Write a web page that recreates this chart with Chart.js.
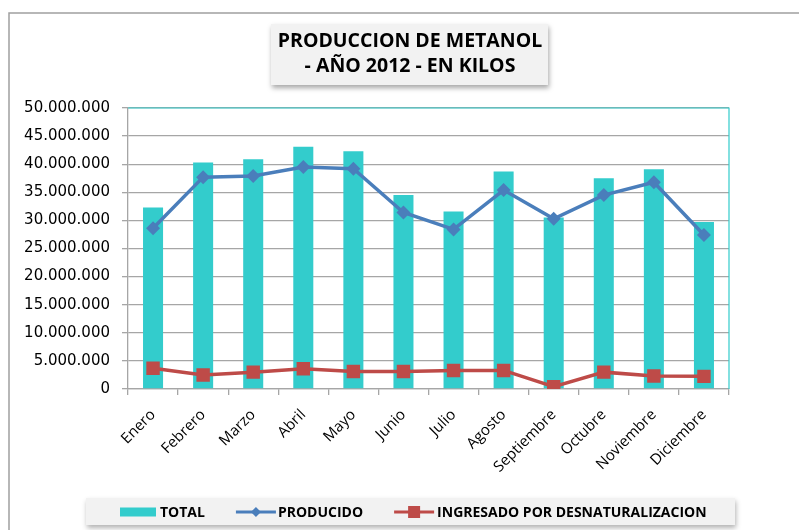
<!DOCTYPE html>
<html>
<head>
<meta charset="utf-8">
<script src="https://cdn.jsdelivr.net/npm/chart.js@4.4.0/dist/chart.umd.min.js"></script>
<style>
  html, body { margin: 0; padding: 0; background: #ffffff; }
  #wrap { width: 799px; height: 530px; position: relative; }
</style>
</head>
<body>
<div id="wrap"><canvas id="c" width="799" height="530"></canvas></div>
<script>
const categories = ['Enero','Febrero','Marzo','Abril','Mayo','Junio','Julio','Agosto','Septiembre','Octubre','Noviembre','Diciembre'];
const total      = [32300000, 40300000, 40900000, 43100000, 42300000, 34500000, 31600000, 38700000, 30500000, 37500000, 39100000, 29700000];
const producido  = [28600000, 37700000, 37900000, 39500000, 39200000, 31400000, 28400000, 35400000, 30300000, 34500000, 36800000, 27400000];
const ingresado  = [3700000, 2500000, 3000000, 3600000, 3100000, 3100000, 3300000, 3300000, 400000, 3000000, 2300000, 2250000];
const titleLines = ['PRODUCCION DE METANOL', '- AÑO 2012 - EN KILOS'];
const seriesNames = ['TOTAL', 'PRODUCIDO', 'INGRESADO POR DESNATURALIZACION'];

const TEAL = '#33CCCC', BLUE = '#4A7EBB', RED = '#BE4B48', GRID = '#a6a6a6';

function fmt(v) { return String(v).replace(/\B(?=(\d{3})+(?!\d))/g, '.'); }

const framePlugin = {
  id: 'frame',
  beforeDraw(chart) {
    const ctx = chart.ctx;
    ctx.save();
    ctx.fillStyle = '#fff';
    ctx.fillRect(0, 0, chart.width, chart.height);
    // outer border
    ctx.strokeStyle = '#a0a0a0';
    ctx.lineWidth = 1.5;
    ctx.beginPath();
    ctx.moveTo(9, chart.height + 2);
    ctx.lineTo(9, 13);
    ctx.lineTo(chart.width + 2, 13);
    ctx.stroke();
    // title box + title text
    ctx.shadowColor = 'rgba(0,0,0,0.35)';
    ctx.shadowBlur = 5; ctx.shadowOffsetY = 3; ctx.shadowOffsetX = 1;
    ctx.fillStyle = '#f2f2f2';
    ctx.fillRect(271, 24, 277, 61);
    ctx.shadowColor = 'transparent';
    ctx.fillStyle = '#000';
    ctx.font = 'bold 19.5px "Open Sans"';
    ctx.textAlign = 'center';
    ctx.textBaseline = 'middle';
    ctx.fillText(titleLines[0], 410, 41);
    ctx.fillText(titleLines[1], 410, 66);
    ctx.restore();
  },
  afterDatasetsDraw(chart) {
    const ctx = chart.ctx, a = chart.chartArea;
    ctx.save();
    ctx.strokeStyle = TEAL;
    ctx.lineWidth = 1.2;
    ctx.beginPath();
    ctx.moveTo(a.left, a.top);
    ctx.lineTo(a.right, a.top);
    ctx.lineTo(a.right, a.bottom);
    ctx.stroke();
    ctx.restore();
  },
  afterDraw(chart) {
    const ctx = chart.ctx;
    ctx.save();
    // legend box
    ctx.shadowColor = 'rgba(0,0,0,0.3)';
    ctx.shadowBlur = 5; ctx.shadowOffsetY = 3; ctx.shadowOffsetX = 1;
    ctx.fillStyle = '#f2f2f2';
    ctx.fillRect(86, 498, 649, 27);
    ctx.shadowColor = 'transparent';
    ctx.font = 'bold 14px "Open Sans"';
    ctx.textBaseline = 'middle';
    const cy = 512;
    let x = 120;
    const dsets = chart.data.datasets;
    const byLabel = l => dsets.find(d => d.label === l);
    const dT = byLabel(seriesNames[0]), dP = byLabel(seriesNames[1]), dI = byLabel(seriesNames[2]);
    // TOTAL
    ctx.fillStyle = dT.backgroundColor;
    ctx.fillRect(x, cy - 4.5, 36, 9);
    x += 40;
    ctx.fillStyle = '#000';
    ctx.fillText(dT.label, x, cy + 1);
    x += ctx.measureText(dT.label).width + 31;
    // PRODUCIDO
    ctx.strokeStyle = dP.borderColor; ctx.lineWidth = 3;
    ctx.beginPath(); ctx.moveTo(x, cy); ctx.lineTo(x + 40, cy); ctx.stroke();
    ctx.fillStyle = dP.borderColor;
    ctx.beginPath();
    ctx.moveTo(x + 20, cy - 5); ctx.lineTo(x + 25, cy); ctx.lineTo(x + 20, cy + 5); ctx.lineTo(x + 15, cy);
    ctx.closePath(); ctx.fill();
    x += 42;
    ctx.fillStyle = '#000';
    ctx.fillText(dP.label, x, cy + 1);
    x += ctx.measureText(dP.label).width + 31;
    // INGRESADO
    ctx.strokeStyle = dI.borderColor; ctx.lineWidth = 3;
    ctx.beginPath(); ctx.moveTo(x, cy); ctx.lineTo(x + 40, cy); ctx.stroke();
    ctx.fillStyle = dI.borderColor;
    ctx.fillRect(x + 14, cy - 6, 12, 12);
    x += 43;
    ctx.fillStyle = '#000';
    ctx.fillText(dI.label, x, cy + 1);
    ctx.restore();
  }
};

new Chart(document.getElementById('c'), {
  data: {
    labels: categories,
    datasets: [
      {
        type: 'bar', label: seriesNames[0], data: total,
        backgroundColor: TEAL, borderWidth: 0,
        barPercentage: 0.4, categoryPercentage: 1.0, order: 3
      },
      {
        type: 'line', label: seriesNames[1], data: producido,
        borderColor: BLUE, backgroundColor: BLUE, borderWidth: 3.5,
        pointStyle: 'rectRot', pointRadius: 7, pointBorderWidth: 0, pointBackgroundColor: BLUE,
        tension: 0, order: 2
      },
      {
        type: 'line', label: seriesNames[2], data: ingresado,
        borderColor: RED, backgroundColor: RED, borderWidth: 3.5,
        pointStyle: 'rect', pointRadius: 9.5, pointBorderWidth: 0, pointBackgroundColor: RED,
        tension: 0, order: 1
      }
    ]
  },
  options: {
    responsive: false,
    animation: false,
    devicePixelRatio: 1,
    layout: { padding: { left: 10, right: 70, top: 108, bottom: 41 } },
    plugins: {
      legend: { display: false },
      tooltip: { enabled: false },
      title: { display: false }
    },
    scales: {
      x: {
        grid: { display: true, drawOnChartArea: false, drawTicks: true, tickLength: 6, color: GRID, lineWidth: 1.3, offset: true },
        border: { display: true, color: GRID, width: 1.3 },
        ticks: {
          color: '#000', font: { family: '"Open Sans"', size: 15 },
          maxRotation: 45, minRotation: 45, padding: 11, autoSkip: false
        },
        afterFit(s) { s.height = 100; }
      },
      y: {
        min: 0, max: 50000000,
        grid: { color: GRID, lineWidth: 1.3, tickLength: 6 },
        border: { display: true, color: GRID, width: 1.3 },
        ticks: {
          stepSize: 5000000, color: '#000', padding: 12,
          font: { family: '"DejaVu Sans"', size: 15 },
          callback: v => fmt(v)
        },
        afterFit(s) { s.width = 118; }
      }
    }
  },
  plugins: [framePlugin]
});
</script>
</body>
</html>
